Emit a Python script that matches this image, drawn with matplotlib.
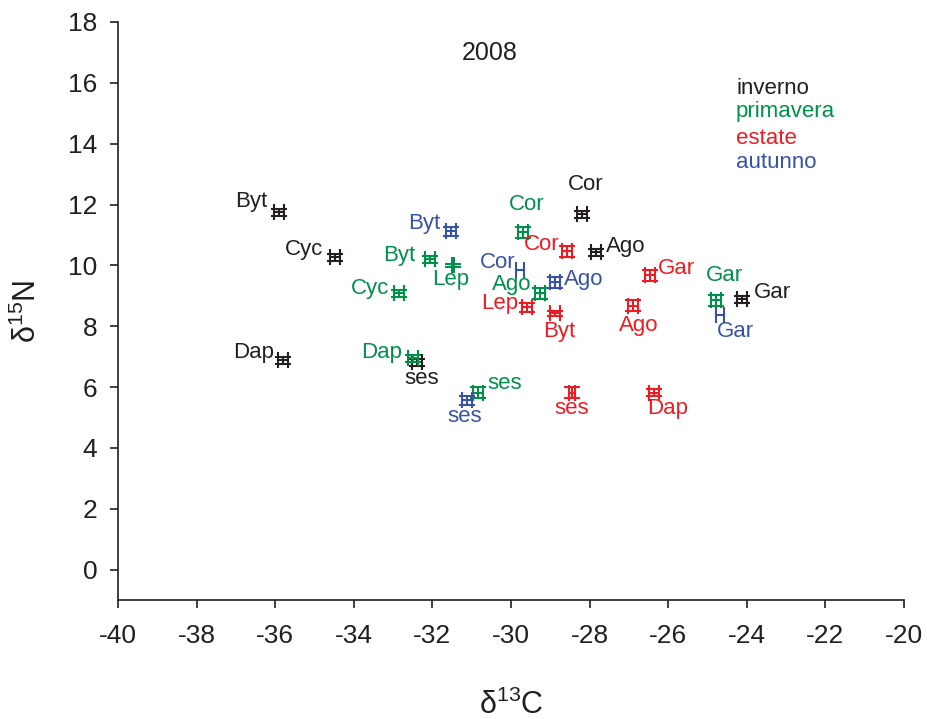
import matplotlib
matplotlib.use("Agg")
import matplotlib.pyplot as plt

plt.rcParams['font.family'] = ['Liberation Sans', 'DejaVu Sans']
plt.rcParams['mathtext.fontset'] = 'custom'
plt.rcParams['mathtext.rm'] = 'Liberation Sans'
plt.rcParams['mathtext.it'] = 'Liberation Sans'
plt.rcParams['axes.unicode_minus'] = False

# ---- data ----
inv_labels = ["Byt", "Cyc", "Dap", "ses", "Cor", "Ago", "Gar"]
inv_c13 = [-35.90, -34.48, -35.80, -32.39, -28.19, -27.84, -24.12]
inv_n15 = [11.74, 10.26, 6.88, 6.81, 11.68, 10.43, 8.88]
inv_sdc = [0.12, 0.12, 0.12, 0.12, 0.12, 0.12, 0.12]
inv_sdn = [0.12, 0.12, 0.12, 0.12, 0.12, 0.12, 0.12]

pri_labels = ["Cor", "Byt", "Lep", "Cyc", "Ago", "Dap", "ses", "Gar"]
pri_c13 = [-29.69, -32.06, -31.48, -32.85, -29.26, -32.49, -30.84, -24.78]
pri_n15 = [11.09, 10.20, 10.00, 9.08, 9.08, 6.94, 5.82, 8.85]
pri_sdc = [0.12, 0.12, 0.02, 0.12, 0.12, 0.12, 0.12, 0.12]
pri_sdn = [0.18, 0.12, 0.06, 0.12, 0.18, 0.12, 0.18, 0.18]

est_labels = ["Cor", "Gar", "Lep", "Byt", "Ago", "ses", "Dap"]
est_c13 = [-28.58, -26.46, -29.59, -28.88, -26.90, -28.45, -26.36]
est_n15 = [10.46, 9.67, 8.62, 8.42, 8.68, 5.82, 5.82]
est_sdc = [0.12, 0.12, 0.12, 0.12, 0.12, 0.08, 0.12]
est_sdn = [0.18, 0.18, 0.14, 0.08, 0.18, 0.18, 0.1]

aut_labels = ["Byt", "Cor", "Ago", "ses", "Gar"]
aut_c13 = [-31.53, -29.77, -28.88, -31.12, -24.68]
aut_n15 = [11.12, 9.84, 9.44, 5.56, 8.36]
aut_sdc = [0.12, 0.11, 0.12, 0.12, 0.11]
aut_sdn = [0.14, 0.0, 0.18, 0.14, 0.0]

season_names = ["inverno", "primavera", "estate", "autunno"]
year = "2008"

# ---- layout / style ----
colors = ["#231f20", "#00904a", "#ed1c24", "#3953a4"]
inv_off = [(-28, 11), (-31, 8), (-29, 8), (5, -16), (4, 30), (30, 6), (30, 7)]
pri_off = [(4, 28), (-31, 4), (-2, -14), (-29, 5), (-28, 9), (-32, 6), (27, 9), (8, 25)]
est_off = [(-25, 7), (26, 7), (-27, 4), (4, -18), (6, -20), (0, -16), (14, -16)]
aut_off = [(-27, 8), (-22, 8), (29, 3), (-2, -16), (15, -16)]

fig = plt.figure(figsize=(9.27, 7.19), dpi=100)
ax = fig.add_axes([118 / 927, 1 - 600 / 719, (904 - 118) / 927, (600 - 22) / 719])

groups = [
    (inv_labels, inv_c13, inv_n15, inv_sdc, inv_sdn, inv_off),
    (pri_labels, pri_c13, pri_n15, pri_sdc, pri_sdn, pri_off),
    (est_labels, est_c13, est_n15, est_sdc, est_sdn, est_off),
    (aut_labels, aut_c13, aut_n15, aut_sdc, aut_sdn, aut_off),
]

for (labs, xs, ys, sx, sy, offs), col in zip(groups, colors):
    for lab, x, y, ex, ey, off in zip(labs, xs, ys, sx, sy, offs):
        ax.errorbar([x], [y], xerr=[ex] if ex > 0 else None,
                    yerr=[ey] if ey > 0 else None,
                    fmt='none', ecolor=col, elinewidth=1.5, capsize=6,
                    capthick=1.5)
        ax.annotate(lab, (x, y), xytext=off, textcoords='offset pixels',
                    ha='center', va='center', color=col, fontsize=16)

ax.set_xlim(-40, -20)
ax.set_ylim(-1, 18)
ax.set_xticks(range(-40, -19, 2))
ax.set_yticks(range(0, 19, 2))
for s in ['top', 'right']:
    ax.spines[s].set_visible(False)
for s in ['left', 'bottom']:
    ax.spines[s].set_linewidth(1.2)
    ax.spines[s].set_color('#231f20')
ax.tick_params(axis='x', direction='out', length=6, width=1.2, pad=11,
               labelsize=19, colors='#231f20')
ax.tick_params(axis='y', direction='out', length=6, width=1.2, pad=9,
               labelsize=19, colors='#231f20')

ax.set_xlabel(r'$\mathrm{δ}^{13}$C', fontsize=22, color='#231f20', labelpad=30)
ax.set_ylabel(r'$\mathrm{δ}^{15}$N', fontsize=22, color='#231f20', labelpad=18)

fig.text(490 / 927, 1 - 53 / 719, year, fontsize=18, color='#231f20',
         ha='center', va='center')
leg_y = [88, 111, 139, 163]
for name, col, yy in zip(season_names, colors, leg_y):
    fig.text(736 / 927, 1 - yy / 719, name, color=col, fontsize=16,
             ha='left', va='center')

fig.savefig("out.png", dpi=100)
